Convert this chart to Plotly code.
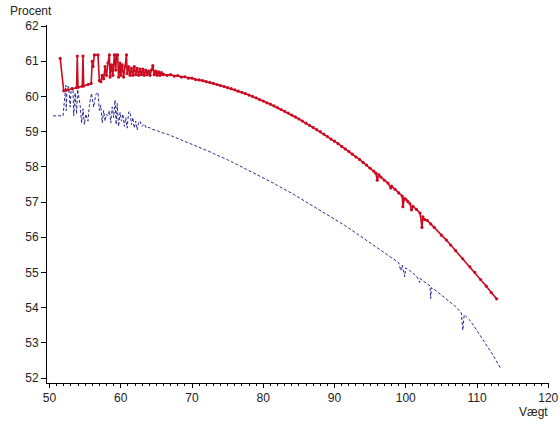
import plotly.graph_objects as go

# Red series (solid with markers)
red_x = [51.5, 52.0, 52.6, 53.2, 53.8, 53.9, 54.0, 54.6, 54.7, 54.8, 55.4, 55.85, 56.0, 56.1, 56.3, 56.8,
         57.0, 57.2, 57.4, 57.6, 57.8, 58.0, 58.2, 58.4, 58.5, 58.7, 58.9, 59.1, 59.3, 59.4, 59.55, 59.7,
         59.9, 60.0, 60.2, 60.4, 60.6, 60.8, 60.9, 61.1, 61.3, 61.5, 61.7, 61.9, 62.1, 62.3, 62.5, 62.7,
         62.9, 63.1, 63.3, 63.5, 63.7, 63.9, 64.1, 64.3, 64.5, 64.7, 64.9, 65.1, 65.3, 65.5, 65.7, 65.9,
         66.0, 66.5, 67.0, 67.5, 68.0, 68.5, 69.0, 69.5, 70.0, 70.5, 71.0, 71.5, 72.0, 72.5, 73.0, 73.5,
         74.0, 74.5, 75.0, 75.5, 76.0, 76.5, 77.0, 77.5, 78.0, 78.5, 79.0, 79.5, 80.0, 80.5, 81.0, 81.5,
         82.0, 82.5, 83.0, 83.5, 84.0, 84.5, 85.0, 85.5, 86.0, 86.5, 87.0, 87.5, 88.0, 88.5, 89.0, 89.5,
         90.0, 90.5, 91.0, 91.5, 92.0, 92.5, 93.0, 93.5, 94.0, 94.5, 95.0, 95.5, 95.8, 96.0, 96.2, 96.5,
         97.0, 97.5, 97.9, 98.0, 98.5, 99.0, 99.5, 99.6, 99.8, 100.0, 100.3, 100.6, 100.8, 101.0, 101.5, 102.0,
         102.27, 102.4, 102.65, 103.0, 103.5, 104.0, 105.0, 105.7, 106.3, 107.0, 108.0, 109.0, 109.7, 110.5, 111.3, 112.0,
         112.75]
red_y = [61.08, 60.16, 60.19, 60.22, 60.25, 61.15, 60.26, 60.29, 61.15, 60.30, 60.34, 60.37, 61.0, 60.85, 61.18, 61.18,
         60.45, 60.42, 60.6, 60.5, 60.85, 60.6, 60.95, 61.18, 60.55, 60.9, 60.6, 61.18, 60.75, 61.18, 61.18, 60.55,
         60.95, 60.6, 60.9, 60.55, 60.85, 61.18, 60.65, 60.85, 60.6, 60.8, 60.6, 60.85, 60.62, 60.8, 60.6, 60.78,
         60.62, 60.78, 60.6, 60.75, 60.62, 60.72, 60.6, 60.75, 60.88, 60.62, 60.72, 60.6, 60.7, 60.6, 60.68, 60.62,
         60.63, 60.60, 60.62, 60.58, 60.59, 60.55, 60.56, 60.52, 60.52, 60.48, 60.47, 60.45, 60.42, 60.40, 60.37, 60.34,
         60.31, 60.28, 60.25, 60.22, 60.19, 60.15, 60.12, 60.08, 60.04, 60.00, 59.96, 59.91, 59.87, 59.82, 59.78, 59.73,
         59.68, 59.63, 59.58, 59.53, 59.47, 59.42, 59.36, 59.30, 59.24, 59.18, 59.12, 59.06, 59.00, 58.93, 58.86, 58.79,
         58.73, 58.66, 58.58, 58.51, 58.44, 58.36, 58.28, 58.21, 58.13, 58.05, 57.96, 57.88, 57.82, 57.62, 57.78, 57.71,
         57.62, 57.54, 57.40, 57.45, 57.36, 57.26, 57.17, 56.87, 57.10, 57.08, 57.01, 56.95, 56.78, 56.88, 56.79, 56.69,
         56.28, 56.58, 56.50, 56.48, 56.38, 56.28, 56.06, 55.92, 55.78, 55.62, 55.39, 55.16, 55.00, 54.80, 54.61, 54.43,
         54.25]

# Blue series (dashed)
blue_x = [50.5, 51.9, 52.3, 52.35, 52.45, 52.7, 52.9, 53.05, 53.3, 53.4, 53.6, 53.8, 53.95, 54.3, 54.5, 54.7,
          54.9, 55.1, 55.4, 55.6, 55.9, 56.2, 56.5, 56.8, 57.0, 57.2, 57.4, 57.6, 57.8, 58.0, 58.2, 58.4,
          58.6, 58.8, 59.0, 59.2, 59.35, 59.5, 59.7, 59.9, 60.1, 60.3, 60.5, 60.7, 60.9, 61.1, 61.3, 61.5,
          61.7, 61.9, 62.1, 62.3, 62.5, 62.7, 63.0, 63.3, 63.6, 64.0, 64.5, 65.0, 65.5, 66.0, 66.5, 67.0,
          67.5, 68.0, 68.5, 69.0, 69.5, 70.0, 70.5, 71.0, 71.5, 72.0, 72.5, 73.0, 73.5, 74.0, 74.5, 75.0,
          75.5, 76.0, 76.5, 77.0, 77.5, 78.0, 78.5, 79.0, 79.5, 80.0, 80.5, 81.0, 81.5, 82.0, 82.5, 83.0,
          83.5, 84.0, 84.5, 85.0, 85.5, 86.0, 86.5, 87.0, 87.5, 88.0, 88.5, 89.0, 89.5, 90.0, 90.5, 91.0,
          91.5, 92.0, 92.5, 93.0, 93.5, 94.0, 94.5, 95.0, 95.5, 96.0, 96.5, 97.0, 97.5, 98.0, 98.5, 99.0,
          99.3, 99.5, 99.85, 100.0, 100.5, 101.0, 101.5, 101.95, 102.0, 102.5, 103.0, 103.4, 103.5, 103.6, 104.0, 104.5,
          105.0, 105.5, 106.0, 106.5, 107.0, 107.5, 107.8, 108.0, 108.2, 108.5, 109.0, 109.5, 110.0, 110.6, 111.0, 111.5,
          112.0, 112.5, 113.0, 113.27]
blue_y = [59.45, 59.45, 60.32, 59.6, 60.28, 60.27, 59.7, 60.25, 60.22, 59.45, 60.1, 59.5, 60.2, 59.75, 59.25, 59.65,
          59.2, 59.5, 59.3, 59.75, 60.09, 59.7, 60.05, 60.12, 59.6, 59.75, 59.25, 59.6, 59.3, 59.5, 59.45, 59.6,
          59.25, 59.7, 59.4, 59.9, 59.2, 59.8, 59.15, 59.55, 59.3, 59.5, 59.15, 59.4, 59.1, 59.55, 59.57, 59.2,
          59.4, 59.1, 59.3, 59.05, 59.25, 59.3, 59.15, 59.22, 59.1, 59.12, 59.06, 59.04, 58.99, 58.97, 58.93, 58.89,
          58.85, 58.81, 58.77, 58.73, 58.69, 58.64, 58.60, 58.56, 58.52, 58.47, 58.43, 58.38, 58.34, 58.29, 58.24, 58.20,
          58.15, 58.10, 58.05, 58.00, 57.95, 57.90, 57.85, 57.80, 57.74, 57.69, 57.64, 57.58, 57.53, 57.47, 57.42, 57.36,
          57.31, 57.25, 57.19, 57.13, 57.07, 57.01, 56.95, 56.89, 56.83, 56.77, 56.71, 56.65, 56.58, 56.52, 56.46, 56.39,
          56.33, 56.26, 56.19, 56.13, 56.06, 55.99, 55.92, 55.85, 55.78, 55.71, 55.64, 55.57, 55.50, 55.43, 55.35, 55.28,
          55.05, 55.21, 54.88, 55.13, 55.06, 54.98, 54.90, 54.72, 54.83, 54.75, 54.67, 54.62, 54.26, 54.57, 54.52, 54.44,
          54.36, 54.28, 54.19, 54.11, 54.03, 53.92, 53.85, 53.36, 53.80, 53.74, 53.64, 53.50, 53.35, 53.17, 53.05, 52.89,
          52.73, 52.56, 52.40, 52.29]

x_ticks = [50, 60, 70, 80, 90, 100, 110, 120]
y_ticks = [52, 53, 54, 55, 56, 57, 58, 59, 60, 61, 62]

RED = "#cc0a20"
BLUE = "#2a2a90"
FONT = "Liberation Sans, Arial, sans-serif"

fig = go.Figure()
fig.add_trace(go.Scatter(x=blue_x, y=blue_y, mode="lines",
                         line=dict(color=BLUE, width=1, dash="3px,2px"),
                         showlegend=False, hoverinfo="skip"))
fig.add_trace(go.Scatter(x=red_x, y=red_y, mode="lines+markers",
                         line=dict(color=RED, width=1.6),
                         marker=dict(color=RED, size=3.2, symbol="circle"),
                         showlegend=False, hoverinfo="skip"))

fig.update_layout(
    width=560, height=421,
    margin=dict(l=47, r=11, t=25, b=38, autoexpand=False),
    paper_bgcolor="white", plot_bgcolor="white",
    font=dict(family=FONT, size=12, color="#222222"),
    xaxis=dict(range=[49.65, 120.1], tickvals=x_ticks, ticks="outside", ticklen=4,
               tickcolor="black", showline=True, linecolor="black", linewidth=1,
               showgrid=False, zeroline=False, automargin=False,
               minor=dict(dtick=1, ticks="outside", ticklen=2, tickcolor="black", showgrid=False)),
    yaxis=dict(range=[51.86, 62.03], tickvals=y_ticks, ticks="outside", ticklen=5,
               tickcolor="black", showline=True, linecolor="black", linewidth=1,
               showgrid=False, zeroline=False, automargin=False),
    annotations=[
        dict(text="Procent", xref="paper", yref="paper", x=-39 / 502, y=1 + 14 / 358,
             xanchor="left", yanchor="middle", showarrow=False, font=dict(size=12)),
        dict(text="Vægt", xref="paper", yref="paper", x=1.002, y=-29 / 358,
             xanchor="right", yanchor="middle", showarrow=False, font=dict(size=12)),
    ],
)

fig.write_html("out.html", config={"displayModeBar": False},
               post_script="document.body.style.margin='0';document.body.style.overflow='hidden';")
